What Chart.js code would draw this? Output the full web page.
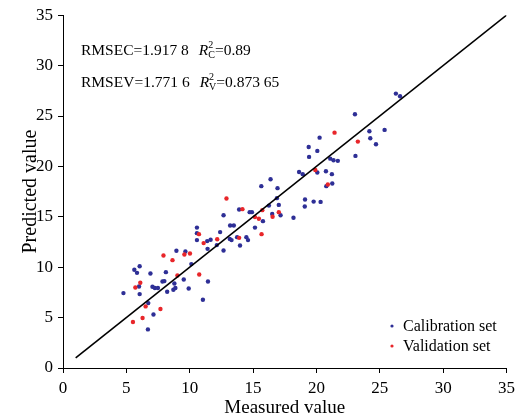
<!DOCTYPE html>
<html>
<head>
<meta charset="utf-8">
<script src="https://cdn.jsdelivr.net/npm/chart.js@4"></script>
<style>
  html, body { margin: 0; padding: 0; background: #fff; }
  #wrap { width: 520px; height: 419px; }
</style>
</head>
<body>
<div id="wrap"><canvas id="chart" width="520" height="419"></canvas></div>
<script>
// calibration set: measured / predicted
const calMeasured = [4.77, 5.63, 5.84, 6.05, 6.0, 6.05, 6.9, 6.73, 7.14, 6.7, 7.06, 7.25, 7.49, 7.85, 8.0,
  8.12, 8.22, 8.71, 8.87, 8.79, 8.95, 9.66, 9.53, 9.92, 10.13, 10.57, 10.57, 10.57, 11.04, 11.44,
  11.41, 11.38, 11.65, 12.14, 12.4, 12.67, 12.67, 13.19, 13.48, 13.16, 13.3, 13.74, 13.97, 13.9, 14.47,
  14.6, 14.73, 14.91, 15.15, 15.78, 15.65, 16.25, 16.51, 17.03, 17.17, 16.93, 16.38, 16.88, 18.19, 19.1,
  19.08, 19.78, 20.33, 18.63, 18.92, 20.07, 20.75, 21.22, 20.78, 21.25, 21.09, 21.35, 21.69, 19.42, 20.07,
  19.39, 20.25, 23.08, 23.04, 24.18, 24.25, 24.7, 25.38, 26.27, 26.6];
const calPredicted = [7.43, 9.74, 9.44, 10.1, 8.09, 7.33, 9.38, 6.44, 5.31, 3.83, 8.06, 7.93, 7.93, 8.58, 8.62,
  9.51, 7.56, 7.76, 7.93, 8.38, 11.63, 11.56, 8.78, 7.89, 10.31, 13.93, 13.38, 12.69, 6.77, 8.58,
  11.82, 12.59, 12.72, 12.19, 13.48, 15.16, 11.66, 14.13, 14.13, 12.81, 12.69, 12.98, 12.15, 15.72, 12.98,
  12.69, 15.46, 15.46, 13.93, 14.57, 18.04, 16.11, 15.29, 16.18, 15.16, 17.84, 18.73, 16.85, 14.9, 16.71,
  16.02, 16.51, 16.48, 19.45, 19.23, 19.39, 19.52, 19.23, 18.04, 18.3, 20.77, 20.61, 20.55, 20.94, 21.54,
  21.93, 22.85, 21.04, 25.17, 23.49, 22.79, 22.2, 23.62, 27.22, 26.96];

// validation set: measured / predicted
const valMeasured = [5.52, 5.71, 6.1, 6.28, 6.52, 7.69, 7.93, 8.64, 9.03, 9.58, 10.02, 10.75, 10.73, 11.1,
  12.17, 12.9, 13.9, 14.16, 15.15, 15.46, 15.67, 15.73, 16.54, 17.03, 19.91, 20.9, 21.43, 23.27];
const valPredicted = [4.56, 7.99, 8.45, 4.96, 6.11, 5.85, 11.16, 10.7, 9.18, 11.26, 11.36, 9.28, 13.28, 12.39,
  12.78, 16.81, 12.91, 15.76, 14.97, 14.8, 13.28, 15.66, 15.0, 15.46, 19.65, 18.2, 23.35, 22.46];

// 1:1 reference line ends
const refLine = [1, 35];
const axisTicks = [0, 5, 10, 15, 20, 25, 30, 35];

const seriesNames = ['Calibration set', 'Validation set'];
const statRows = [
  { name: 'RMSEC', value: '1.917 8', sub: 'C', r2: '0.89' },
  { name: 'RMSEV', value: '1.771 6', sub: 'V', r2: '0.873 65' }
];

const FONT = '"Liberation Serif", "Times New Roman", serif';
const BLUE = '#2e2f96';
const RED = '#e8262a';

function toPoints(xs, ys) {
  return xs.map((x, i) => ({ x: x, y: ys[i] }));
}

// stats text + legend drawn on top of the chart
const overlayPlugin = {
  id: 'overlay',
  afterDraw(chart) {
    const ctx = chart.ctx;
    ctx.save();
    ctx.fillStyle = '#000';
    ctx.textBaseline = 'alphabetic';
    statRows.forEach((row, i) => {
      let x = 81;
      const y = 55 + i * 32;
      ctx.font = '15.5px ' + FONT;
      const first = row.name + '=' + row.value;
      ctx.fillText(first, x, y);
      x += ctx.measureText(first).width + 10;
      ctx.font = 'italic 15.5px ' + FONT;
      ctx.fillText('R', x, y);
      x += ctx.measureText('R').width;
      ctx.font = '10px ' + FONT;
      ctx.fillText('2', x, y - 7);
      ctx.fillText(row.sub, x, y + 3);
      x += ctx.measureText(row.sub).width;
      ctx.font = '15.5px ' + FONT;
      ctx.fillText('=' + row.r2, x, y);
    });

    // legend, in series-name order
    const sets = seriesNames.map(n => chart.data.datasets.find(d => d.label === n));
    ctx.textBaseline = 'middle';
    ctx.font = '16px ' + FONT;
    sets.forEach((d, i) => {
      const y = 327 + i * 20;
      ctx.fillStyle = d.backgroundColor;
      ctx.beginPath();
      ctx.arc(392, y - 1, 1.6, 0, Math.PI * 2);
      ctx.fill();
      ctx.fillStyle = '#000';
      ctx.fillText(d.label, 403, y);
    });
    ctx.restore();
  }
};

function axis(title, isX) {
  return {
    type: 'linear',
    min: 0,
    max: 35,
    afterBuildTicks: s => { s.ticks = axisTicks.map(v => ({ value: v })); },
    ticks: { color: '#000', font: { family: FONT, size: 17 }, padding: isX ? 5 : 5 },
    grid: { drawOnChartArea: false, drawTicks: true, tickLength: 5, color: '#000', tickColor: '#000' },
    border: { color: '#000', width: 1 },
    title: {
      display: true,
      text: title,
      color: '#000',
      font: { family: FONT, size: isX ? 19 : 20 },
      padding: isX ? { top: 0, bottom: 0 } : { top: 19, bottom: 0 }
    },
    afterFit: s => { if (isX) s.height = 51; else s.width = 63; }
  };
}

new Chart(document.getElementById('chart'), {
  data: {
    datasets: [
      {
        type: 'line',
        label: '1:1',
        data: toPoints(refLine, refLine),
        borderColor: '#000',
        borderWidth: 1.6,
        pointRadius: 0,
        fill: false
      },
      {
        type: 'scatter',
        label: seriesNames[1],
        data: toPoints(valMeasured, valPredicted),
        backgroundColor: RED,
        borderWidth: 0,
        pointRadius: 2.2
      },
      {
        type: 'scatter',
        label: seriesNames[0],
        data: toPoints(calMeasured, calPredicted),
        backgroundColor: BLUE,
        borderWidth: 0,
        pointRadius: 2.2
      }
    ]
  },
  options: {
    responsive: false,
    animation: false,
    layout: { padding: { left: 0, top: 15, right: 10, bottom: 0 } },
    scales: {
      x: axis('Measured value', true),
      y: axis('Predicted value', false)
    },
    plugins: {
      legend: { display: false },
      tooltip: { enabled: false }
    }
  },
  plugins: [overlayPlugin]
});
</script>
</body>
</html>
